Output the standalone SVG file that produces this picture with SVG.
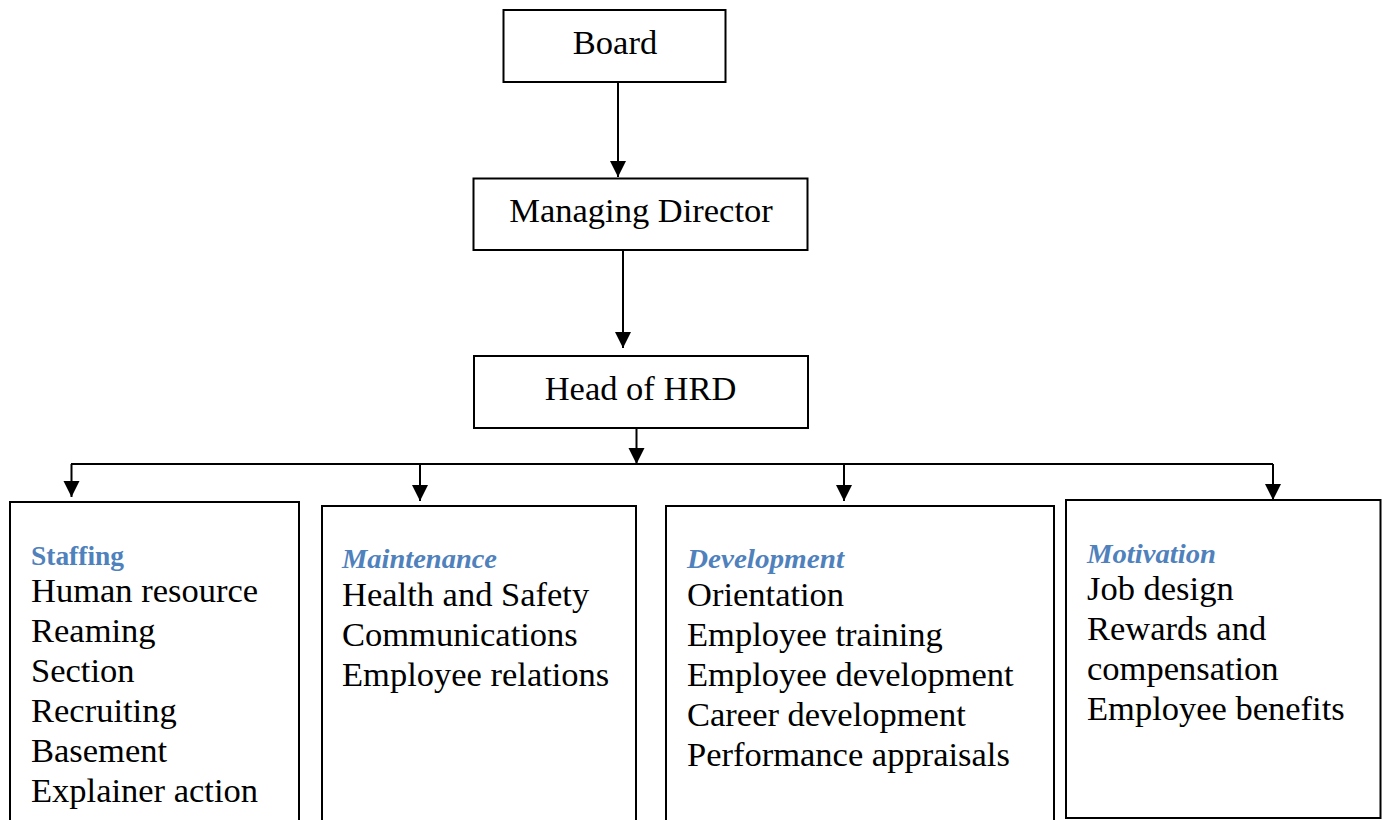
<svg xmlns="http://www.w3.org/2000/svg" width="1382" height="820" viewBox="0 0 1382 820">
  <style>
    .box { fill: #ffffff; stroke: #000000; stroke-width: 2; }
    .conn { fill: none; stroke: #000000; stroke-width: 2; }
    .label { font-family: "Liberation Serif", "Times New Roman", serif; font-size: 34.5px; fill: #000000; }
    .mid { text-anchor: middle; }
    .head { font-family: "Liberation Serif", "Times New Roman", serif; font-size: 27px; font-weight: bold; fill: #4F81BD; }
    .ital { font-style: italic; }
  </style>
  <defs>
    <marker id="arrow" markerUnits="userSpaceOnUse" markerWidth="17" markerHeight="17" viewBox="0 0 17 17" refX="16" refY="8.5" orient="auto">
      <path d="M0,0.5 L16,8.5 L0,16.5 Z" fill="#000000"/>
    </marker>
  </defs>
  <rect width="1382" height="820" fill="#ffffff"/>

  <!-- connectors -->
  <g id="connectors">
    <line class="conn" x1="618" y1="82" x2="618" y2="177" marker-end="url(#arrow)"/>
    <line class="conn" x1="623" y1="250" x2="623" y2="348" marker-end="url(#arrow)"/>
    <line class="conn" x1="636.5" y1="428" x2="636.5" y2="464" marker-end="url(#arrow)"/>
    <line class="conn" x1="71" y1="464" x2="1273" y2="464"/>
    <line class="conn" x1="71.5" y1="464" x2="71.5" y2="497" marker-end="url(#arrow)"/>
    <line class="conn" x1="420" y1="464" x2="420" y2="501" marker-end="url(#arrow)"/>
    <line class="conn" x1="844" y1="464" x2="844" y2="501" marker-end="url(#arrow)"/>
    <line class="conn" x1="1273" y1="464" x2="1273" y2="500" marker-end="url(#arrow)"/>
  </g>

  <!-- top chain -->
  <g id="board">
    <rect class="box" x="503.5" y="10" width="222" height="72"/>
    <text class="label mid" x="615" y="54">Board</text>
  </g>
  <g id="managing-director">
    <rect class="box" x="473.5" y="178.5" width="334" height="71.5"/>
    <text class="label mid" x="641" y="222">Managing Director</text>
  </g>
  <g id="head-of-hrd">
    <rect class="box" x="474" y="356" width="334" height="72"/>
    <text class="label mid" x="640.5" y="399.5">Head of HRD</text>
  </g>

  <!-- function boxes -->
  <g id="staffing">
    <rect class="box" x="10" y="502" width="289" height="340"/>
    <text class="head" x="31" y="565" textLength="93" lengthAdjust="spacingAndGlyphs">Staffing</text>
    <text class="label" x="31" y="602">Human resource</text>
    <text class="label" x="31" y="642">Reaming</text>
    <text class="label" x="31" y="682">Section</text>
    <text class="label" x="31" y="722">Recruiting</text>
    <text class="label" x="31" y="762">Basement</text>
    <text class="label" x="31" y="802">Explainer action</text>
  </g>
  <g id="maintenance">
    <rect class="box" x="322" y="506" width="314" height="340"/>
    <text class="head ital" x="342" y="568" textLength="155" lengthAdjust="spacingAndGlyphs">Maintenance</text>
    <text class="label" x="342" y="606">Health and Safety</text>
    <text class="label" x="342" y="646">Communications</text>
    <text class="label" x="342" y="686">Employee relations</text>
  </g>
  <g id="development">
    <rect class="box" x="666" y="506" width="388" height="340"/>
    <text class="head ital" x="687" y="568" textLength="157" lengthAdjust="spacingAndGlyphs">Development</text>
    <text class="label" x="687" y="606">Orientation</text>
    <text class="label" x="687" y="646">Employee training</text>
    <text class="label" x="687" y="686">Employee development</text>
    <text class="label" x="687" y="726">Career development</text>
    <text class="label" x="687" y="766">Performance appraisals</text>
  </g>
  <g id="motivation">
    <rect class="box" x="1066" y="500" width="314.5" height="318"/>
    <text class="head ital" x="1087" y="562.5" textLength="129" lengthAdjust="spacingAndGlyphs">Motivation</text>
    <text class="label" x="1087" y="600">Job design</text>
    <text class="label" x="1087" y="640">Rewards and</text>
    <text class="label" x="1087" y="680">compensation</text>
    <text class="label" x="1087" y="720">Employee benefits</text>
  </g>
</svg>
